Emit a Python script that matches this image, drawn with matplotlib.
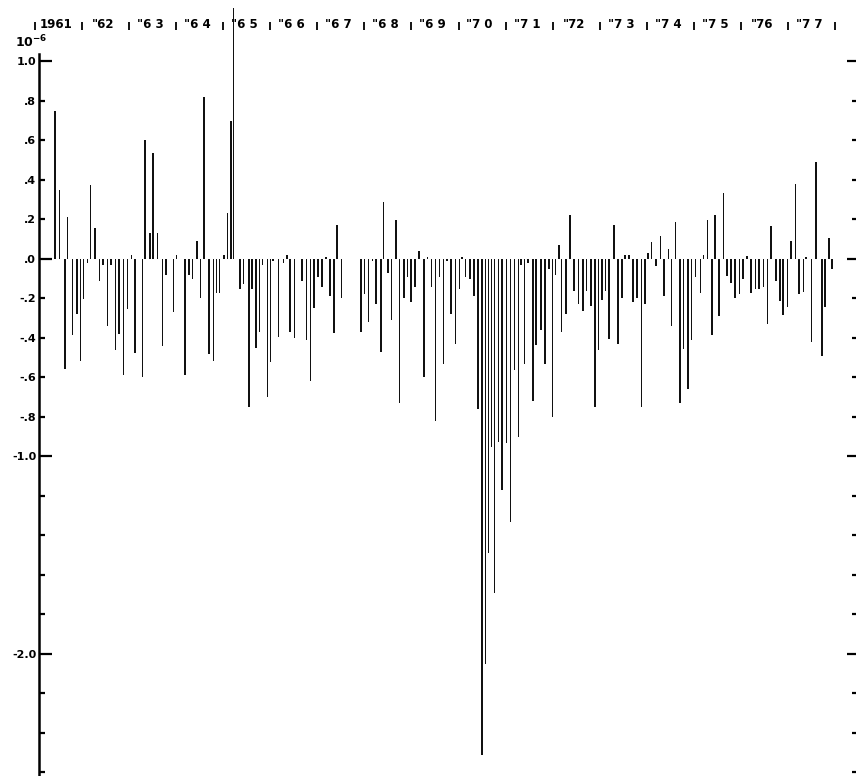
import numpy as np
import matplotlib
matplotlib.use("Agg")
import matplotlib.pyplot as plt
from matplotlib.transforms import blended_transform_factory

# observation dates (decimal years) and values (units of 1e-6)
dates = [
    1961.10, 1961.43, 1961.52, 1961.64, 1961.69, 1961.80, 1961.89, 1961.97,
    1962.03, 1962.12, 1962.18, 1962.28, 1962.37, 1962.45, 1962.54, 1962.62,
    1962.71, 1962.79, 1962.88, 1962.97, 1963.05, 1963.12, 1963.28, 1963.34,
    1963.44, 1963.51, 1963.60, 1963.71, 1963.78, 1963.94, 1964.01, 1964.19,
    1964.27, 1964.35, 1964.44, 1964.52, 1964.59, 1964.70, 1964.79, 1964.86,
    1964.92, 1965.02, 1965.09, 1965.16, 1965.22, 1965.36, 1965.43, 1965.55,
    1965.61, 1965.70, 1965.77, 1965.83, 1965.94, 1966.00, 1966.06, 1966.17,
    1966.28, 1966.35, 1966.42, 1966.51, 1966.67, 1966.77, 1966.85, 1966.93,
    1967.01, 1967.10, 1967.18, 1967.27, 1967.35, 1967.42, 1967.51, 1967.93,
    1968.00, 1968.09, 1968.17, 1968.25, 1968.35, 1968.41, 1968.50, 1968.58,
    1968.67, 1968.75, 1968.84, 1968.92, 1968.99, 1969.08, 1969.16, 1969.27,
    1969.34, 1969.43, 1969.51, 1969.60, 1969.68, 1969.76, 1969.84, 1969.94,
    1970.02, 1970.07, 1970.15, 1970.24, 1970.33, 1970.41, 1970.50, 1970.57,
    1970.64, 1970.70, 1970.76, 1970.85, 1970.92, 1971.02, 1971.10, 1971.19,
    1971.27, 1971.33, 1971.40, 1971.48, 1971.58, 1971.65, 1971.75, 1971.84,
    1971.92, 1972.00, 1972.06, 1972.14, 1972.19, 1972.28, 1972.37, 1972.45,
    1972.55, 1972.64, 1972.72, 1972.81, 1972.90, 1972.97, 1973.05, 1973.12,
    1973.20, 1973.30, 1973.39, 1973.47, 1973.54, 1973.62, 1973.71, 1973.79,
    1973.89, 1973.96, 1974.03, 1974.10, 1974.20, 1974.29, 1974.37, 1974.46,
    1974.53, 1974.61, 1974.71, 1974.78, 1974.88, 1974.95, 1975.04, 1975.14,
    1975.21, 1975.29, 1975.39, 1975.45, 1975.54, 1975.63, 1975.71, 1975.79,
    1975.88, 1975.97, 1976.05, 1976.13, 1976.21, 1976.31, 1976.39, 1976.48,
    1976.57, 1976.64, 1976.75, 1976.83, 1976.90, 1976.99, 1977.07, 1977.16,
    1977.24, 1977.33, 1977.38, 1977.50, 1977.60, 1977.72, 1977.79, 1977.87,
    1977.94,
]
values = [
    0.27, 0.75, 0.35, -0.555, 0.21, -0.385, -0.28, -0.515,
    -0.205, -0.02, 0.375, 0.155, -0.11, -0.03, -0.34, -0.03,
    -0.46, -0.38, -0.59, -0.255, 0.02, -0.475, -0.60, 0.60,
    0.13, 0.535, 0.13, -0.44, -0.08, -0.27, 0.02, -0.59,
    -0.08, -0.10, 0.09, -0.20, 0.82, -0.48, -0.515, -0.175,
    -0.175, 0.02, 0.235, 0.70, 1.27, -0.15, -0.125, -0.75,
    -0.15, -0.45, -0.37, -0.03, -0.70, -0.52, -0.01, -0.395,
    -0.02, 0.02, -0.37, -0.40, -0.11, -0.41, -0.62, -0.25,
    -0.09, -0.14, 0.01, -0.19, -0.375, 0.17, -0.20, -0.37,
    -0.18, -0.32, -0.01, -0.23, -0.47, 0.29, -0.07, -0.31,
    0.195, -0.73, -0.20, -0.09, -0.22, -0.14, 0.04, -0.60,
    0.01, -0.14, -0.82, -0.09, -0.53, -0.01, -0.28, -0.43,
    -0.15, 0.01, -0.09, -0.10, -0.19, -0.76, -2.51, -2.05,
    -1.49, -0.95, -1.69, -0.925, -1.17, -0.93, -1.33, -0.56,
    -0.90, -0.03, -0.53, -0.02, -0.72, -0.435, -0.36, -0.53,
    -0.05, -0.80, -0.08, 0.07, -0.37, -0.28, 0.22, -0.16,
    -0.23, -0.265, -0.16, -0.24, -0.75, -0.46, -0.21, -0.16,
    -0.405, 0.17, -0.43, -0.20, 0.02, 0.02, -0.22, -0.20,
    -0.75, -0.23, 0.03, 0.085, -0.035, 0.115, -0.19, 0.05,
    -0.34, 0.185, -0.73, -0.455, -0.66, -0.41, -0.09, -0.175,
    0.02, 0.195, -0.385, 0.22, -0.29, 0.335, -0.085, -0.12,
    -0.20, -0.18, -0.10, 0.015, -0.17, -0.15, -0.15, -0.14,
    -0.33, 0.165, -0.11, -0.215, -0.285, -0.245, 0.09, 0.38,
    -0.18, -0.165, 0.01, -0.42, 0.49, -0.49, -0.245, 0.105,
    -0.05,
]

years = list(range(1961, 1978))
year_labels = ["1961", '"62', '"6 3', '"6 4', '"6 5', '"6 6', '"6 7', '"6 8',
               '"6 9', '"7 0', '"7 1', '"72', '"7 3', '"7 4', '"7 5', '"76', '"7 7']
year_bounds = list(range(1961, 1979))

ytick_values = [1.0, 0.8, 0.6, 0.4, 0.2, 0.0, -0.2, -0.4, -0.6, -0.8, -1.0,
                -1.2, -1.4, -1.6, -1.8, -2.0, -2.2, -2.4, -2.6]
ytick_labels = ["1.0", ".8", ".6", ".4", ".2", ".0", "-.2", "-.4", "-.6", "-.8", "-1.0",
                "", "", "", "", "-2.0", "", "", ""]
long_ticks = [1.0, 0.0, -1.0, -2.0]

W, H = 856, 776
fig = plt.figure(figsize=(W / 100, H / 100), dpi=100)
ax = fig.add_axes([39 / W, 0, 1 - 39 / W, 1])

ax.bar(dates, values, width=0.032, color="#111111", linewidth=0)

for s in ["top", "bottom", "right"]:
    ax.spines[s].set_visible(False)
ax.spines["left"].set_bounds(-2.618, 1.04)
ax.spines["left"].set_linewidth(1.8)

ax.set_xticks([])
ax.set_yticks(ytick_values)
ax.set_yticklabels(ytick_labels, fontsize=8, fontweight="bold")
ax.tick_params(axis="y", direction="in", left=True, right=True, width=1.6,
               length=4.3, pad=2)
for tick, val in zip(ax.yaxis.get_major_ticks(), ytick_values):
    is_long = val in long_ticks
    tick.tick1line.set_markersize(9.4 if is_long else 4.3)
    tick.tick2line.set_markersize(6.5 if is_long else 3.2)

trans = blended_transform_factory(ax.transData, ax.transAxes)
for yr, lab in zip(years, year_labels):
    ax.text(yr + 0.45, 1 - 24 / H, lab, transform=trans, ha="center", va="center",
            fontsize=8.5, fontweight="semibold")
ax.vlines(year_bounds, 1 - 30 / H, 1 - 22 / H, transform=trans, color="black",
          lw=1.3, clip_on=False)

fig.text(15 / W, 1 - 47 / H, r"$\mathbf{10^{-6}}$", fontsize=9, ha="left", va="baseline")

ax.set_xlim(1961.085, 1978.446)
ax.set_ylim(-2.618, 1.311)

fig.savefig("out.png", dpi=100, facecolor="white")
